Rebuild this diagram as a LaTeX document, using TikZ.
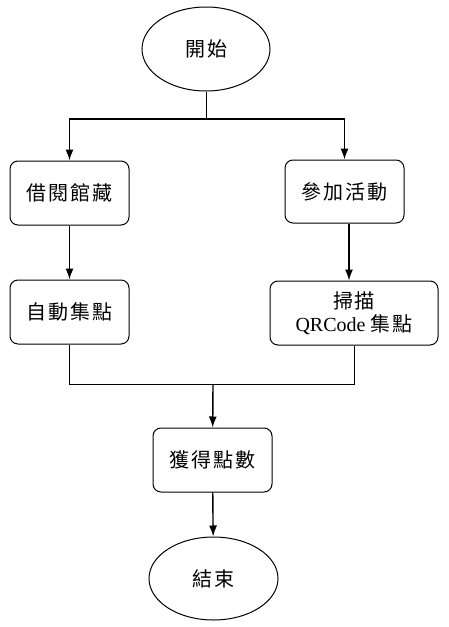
\documentclass[tikz,border=0pt]{standalone}
\usepackage{fontspec}
\setmainfont{Liberation Serif}
\newfontfamily\cjk{Noto Sans CJK TC}[LetterSpace=10]
\usepackage{tikz}
\usetikzlibrary{arrows.meta, shapes.geometric}
\tikzset{
  term/.style={draw, ellipse, line width=1pt, inner sep=0pt, font=\cjk\fontsize{20}{23}\selectfont},
  stepbox/.style={draw, rounded corners=8pt, line width=1pt, inner sep=0pt, minimum width=119pt, minimum height=64pt, align=center, font=\cjk\fontsize{20}{23}\selectfont},
  flow/.style={line width=1.4pt},
  link/.style={line width=0.9pt},
}
\begin{document}
\begin{tikzpicture}[x=1pt, y=-1pt, >={Latex[length=11pt,width=8pt]}]
\useasboundingbox (0,0) rectangle (448,627);
\node[term, minimum width=128pt, minimum height=84pt](start) at (206,49) {開始};
%
\node[stepbox](borrow) at (69.5,193) {借閱館藏};
\node[stepbox, minimum height=63pt](join) at (344.5,191.5) {參加活動};
\coordinate(top) at (206,119);
\draw[link](start) -- (top) {};
\draw[flow,->](top) -| (borrow) {};
\draw[flow,->](top) -| (join) {};
%
\node[stepbox](auto) at (69.5,312) {自動集點};
\draw[flow,->](borrow) -- (auto) {};
%
\node[stepbox, minimum width=168pt](scan) at (354,313) {掃描\\{\rmfamily QRCode }集點};
\draw[flow,->]([xshift=4.5pt]join.south) -- ([xshift=-5pt]scan.north) {};
%
\node[stepbox](points) at (212.5,460) {獲得點數};
\coordinate(bottom) at (213,384);
\draw[link](auto) |- (bottom) {};
\draw[link](scan) |- (bottom) {};
\draw[flow,->](bottom) -- (points) {};
%
\node[term, minimum width=129pt, minimum height=83pt](end) at (213.5,578.5) {結束};
\draw[flow,->](points) -- (end) {};
\end{tikzpicture}
\end{document}
